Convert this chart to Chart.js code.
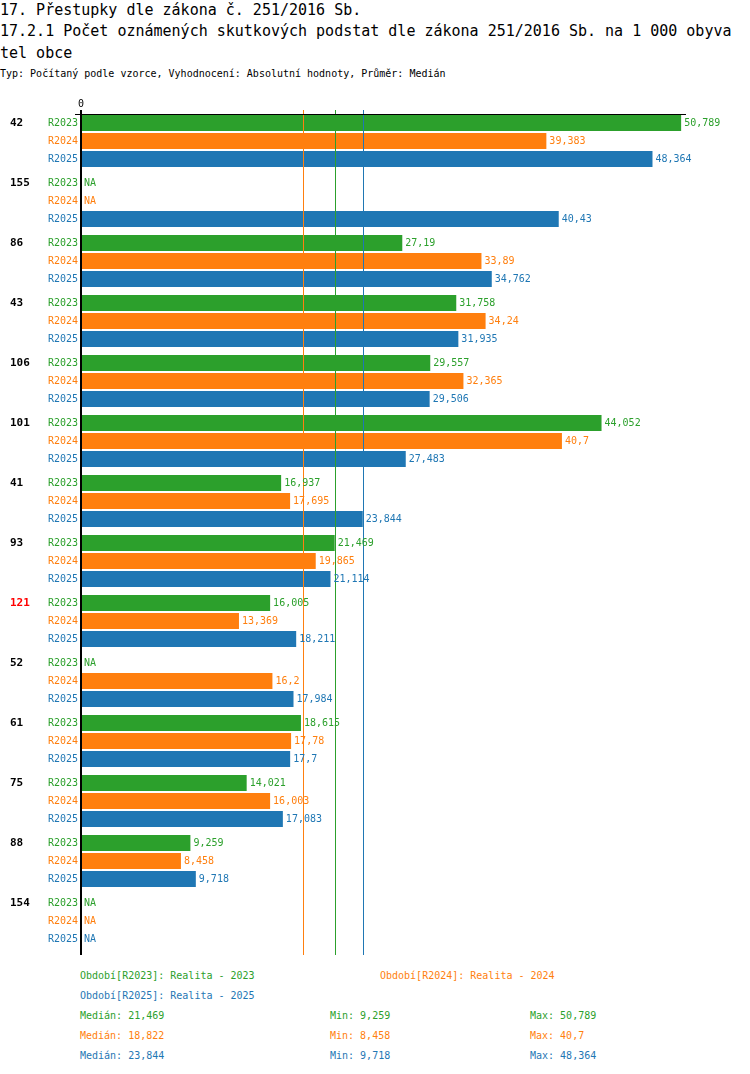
<!DOCTYPE html>
<html lang="cs">
<head>
<meta charset="utf-8">
<script src="https://cdn.jsdelivr.net/npm/chart.js@4.4.0/dist/chart.umd.min.js"></script>
<style>
  body { margin: 0; background: #fff; width: 750px; height: 1074px; position: relative; overflow: hidden;
         font-family: "DejaVu Sans Mono", monospace; }
  .t { position: absolute; left: 0; white-space: nowrap; font-size: 15px; line-height: 20px; color: #000; }
  .s { position: absolute; white-space: nowrap; font-size: 10px; line-height: 14px; }
  #wrap { position: absolute; left: 0; top: 95px; width: 750px; height: 870px; }
</style>
</head>
<body>
<div class="t" style="top:0">17. Přestupky dle zákona č. 251/2016 Sb.</div>
<div class="t" style="top:21px">17.2.1 Počet oznámených skutkových podstat dle zákona 251/2016 Sb. na 1 000 obyva</div>
<div class="t" style="top:43px">tel obce</div>
<div class="s" style="top:67px;left:0;color:#000">Typ: Počítaný podle vzorce, Vyhodnocení: Absolutní hodnoty, Průměr: Medián</div>
<div id="wrap"><canvas id="chart" width="750" height="870"></canvas></div>
<div id="footer"></div>
<script>
// data
let groups = ["42", "155", "86", "43", "106", "101", "41", "93", "121", "52", "61", "75", "88", "154"];
let highlighted = ["121"];
let seriesNames = ["R2023", "R2024", "R2025"];
let r2023 = [50.789, null, 27.19, 31.758, 29.557, 44.052, 16.937, 21.469, 16.005, null, 18.615, 14.021, 9.259, null];
let r2024 = [39.383, null, 33.89, 34.24, 32.365, 40.7, 17.695, 19.865, 13.369, 16.2, 17.78, 16.003, 8.458, null];
let r2025 = [48.364, 40.43, 34.762, 31.935, 29.506, 27.483, 23.844, 21.114, 18.211, 17.984, 17.7, 17.083, 9.718, null];
let medians = [21.469, 18.822, 23.844];
let mins = [9.259, 8.458, 9.718];
let maxs = [50.789, 40.7, 48.364];
let periodNames = ["Realita - 2023", "Realita - 2024", "Realita - 2025"];
let xTicks = [0];
let colors = ["#2ca02c", "#ff7f0e", "#1f77b4"];

function fmt(v) {
  return String(v).replace(".", ",");
}

// footer legend + stats
let footer = document.getElementById("footer");
function addText(txt, left, top, color) {
  let d = document.createElement("div");
  d.className = "s";
  d.style.left = left + "px";
  d.style.top = top + "px";
  d.style.color = color;
  d.textContent = txt;
  footer.appendChild(d);
}
addText("Období[" + seriesNames[0] + "]: " + periodNames[0], 80, 969, colors[0]);
addText("Období[" + seriesNames[1] + "]: " + periodNames[1], 380, 969, colors[1]);
addText("Období[" + seriesNames[2] + "]: " + periodNames[2], 80, 989, colors[2]);
for (let i = 0; i < 3; i++) {
  let top = 1009 + i * 20;
  addText("Medián: " + fmt(medians[i]), 80, top, colors[i]);
  addText("Min: " + fmt(mins[i]), 330, top, colors[i]);
  addText("Max: " + fmt(maxs[i]), 530, top, colors[i]);
}

const rowLabels = {
  id: "rowLabels",
  afterDatasetsDraw(chart) {
    let ctx = chart.ctx;
    let xs = chart.scales.x;
    let area = chart.chartArea;
    let x0 = xs.getPixelForValue(0);
    ctx.save();

    // median lines
    medians.forEach(function(m, i) {
      ctx.fillStyle = colors[i];
      ctx.fillRect(Math.round(xs.getPixelForValue(m)), area.top - 1, 1, area.bottom - area.top + 5);
    });

    // axis lines
    let first = chart.getDatasetMeta(0).data[0];
    let topY = Math.round(first.y - first.height / 2) - 1;
    ctx.fillStyle = "#000";
    ctx.fillRect(Math.round(x0) - 6, topY, area.right - x0 + 6, 1);
    ctx.fillRect(Math.round(x0) - 1, area.top - 1, 2, area.bottom - area.top + 5);

    ctx.font = '10px "DejaVu Sans Mono"';
    ctx.textBaseline = "middle";
    ctx.textAlign = "center";
    xTicks.forEach(function(t) {
      ctx.fillText(String(t), xs.getPixelForValue(t), area.top - 7);
    });

    chart.data.datasets.forEach(function(ds, d) {
      let meta = chart.getDatasetMeta(d);
      meta.data.forEach(function(bar, i) {
        let v = ds.data[i];
        let y = bar.y;
        ctx.font = '10px "DejaVu Sans Mono"';
        ctx.fillStyle = colors[d];
        ctx.textAlign = "right";
        ctx.fillText(seriesNames[d], x0 - 3, y);
        ctx.textAlign = "left";
        if (v == null) {
          ctx.fillText("NA", x0 + 3, y);
        } else {
          ctx.fillText(fmt(v), bar.x + 3, y);
        }
        if (d === 0) {
          ctx.font = 'bold 11px "DejaVu Sans Mono"';
          ctx.fillStyle = highlighted.includes(groups[i]) ? "#ff0000" : "#000";
          ctx.fillText(groups[i], 10, y);
        }
      });
    });
    ctx.restore();
  }
};

let chart = new Chart(document.getElementById("chart").getContext("2d"), {
  type: "bar",
  data: {
    labels: groups,
    datasets: [
      { label: seriesNames[0], data: r2023, backgroundColor: colors[0] },
      { label: seriesNames[1], data: r2024, backgroundColor: colors[1] },
      { label: seriesNames[2], data: r2025, backgroundColor: colors[2] }
    ]
  },
  options: {
    indexAxis: "y",
    responsive: false,
    animation: false,
    devicePixelRatio: 1,
    categoryPercentage: 0.9,
    barPercentage: 16 / 18,
    layout: { padding: { left: 81, right: 64, top: 16, bottom: 14 } },
    plugins: { legend: { display: false }, tooltip: { enabled: false } },
    scales: {
      x: { display: false, min: 0, max: 51.2 },
      y: { display: false }
    }
  },
  plugins: [rowLabels]
});
</script>
</body>
</html>
